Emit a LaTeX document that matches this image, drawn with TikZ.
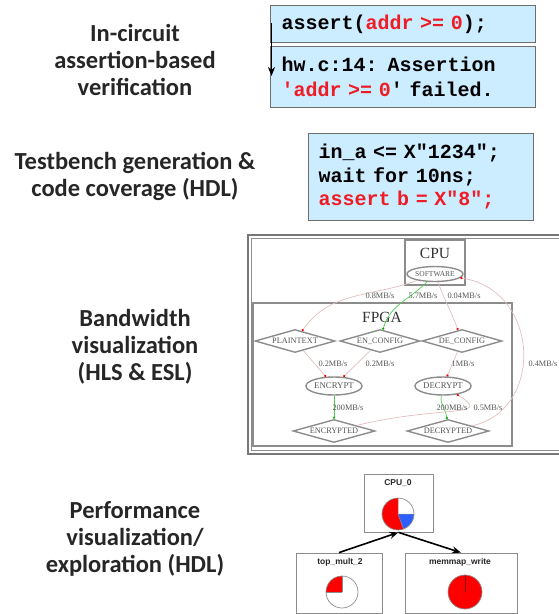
\documentclass[tikz,border=0pt]{standalone}
\usepackage{fontspec}
\setmainfont{Liberation Serif}
\setsansfont{Carlito}
\setmonofont{Liberation Mono}
\newfontfamily\piefont{Liberation Sans}
\usetikzlibrary{positioning,shapes.geometric,arrows.meta}
\definecolor{codebg}{RGB}{204,236,255}
\definecolor{codeline}{RGB}{110,110,110}
\definecolor{codered}{RGB}{238,28,36}
\definecolor{gvgray}{RGB}{140,140,140}
\definecolor{gvtext}{RGB}{85,85,85}
\definecolor{bwpink}{RGB}{226,190,190}
\definecolor{bwgreen}{RGB}{80,205,80}
\definecolor{pieblue}{RGB}{45,95,255}
\newcommand{\hl}[1]{\textcolor{codered}{#1}}

\begin{document}
\begin{tikzpicture}[x=1pt,y=-1pt,
  heading/.style={font=\sffamily\bfseries\fontsize{24.5}{27}\selectfont,align=center,text=black!85},
  codebox/.style={draw=codeline,fill=codebg,line width=1pt,anchor=north west,inner xsep=11pt,inner ysep=0pt,align=left,font=\ttfamily\bfseries\fontsize{20}{25}\selectfont},
  cluster/.style={draw=gvgray,line width=1.3pt},
  gvdiamond/.style={diamond,shape aspect=3.5,draw=gvgray,line width=1.4pt,minimum width=80pt,minimum height=23pt,inner sep=0pt,font=\fontsize{8.3}{9}\selectfont,text=gvtext},
  gvellipse/.style={ellipse,draw=gvgray,line width=1.4pt,minimum width=50pt,minimum height=18pt,inner sep=0pt,font=\fontsize{8.8}{9}\selectfont,text=gvtext},
  bwlabel/.style={font=\fontsize{8.3}{9}\selectfont,text=gvtext,inner sep=1pt},
  bwedge/.style={draw=bwpink,line width=0.7pt,-{Circle[length=2.2pt,color=red]}},
  bwfast/.style={draw=bwgreen,line width=0.7pt,-{Circle[length=2.2pt,color=green!70!black]}},
  piebox/.style={draw=gvgray,line width=0.8pt,inner sep=0pt},
  pietitle/.style={font=\piefont\bfseries\fontsize{8.5}{9}\selectfont,inner sep=0pt,text=black!85},
  flow/.style={line width=1.6pt,-{Stealth[length=9pt,width=7pt]}}]
\useasboundingbox (0,0) rectangle (558,614);

% left column
\node[heading] (hassert) at (135,60) {In-circuit\\assertion-based\\verification};
\node[heading] (htest) at (135,176) {Testbench generation \&\\code coverage (HDL)};
\node[heading] (hbw) at (135,347) {Bandwidth\\visualization\\(HLS \& ESL)};
\node[heading] (hperf) at (135,539) {Performance\\visualization/\\exploration (HDL)};

% assertion and testbench code
\node[codebox,minimum height=37pt,text width=243pt] (asrt) at (270,5) {assert(\hl{addr >= 0});};
\node[codebox,minimum height=61pt,text width=243pt] (fail) at (270,46) {hw.c:14: Assertion\\\hl{'addr >= 0}' failed.};
\coordinate (arrtop) at (271.5,23);
\coordinate (arrbot) at (271.5,76);
\draw[flow] (arrtop) -- (arrbot);
\node[codebox,minimum height=87pt,text width=205pt,inner xsep=10pt,font=\ttfamily\bfseries\fontsize{20}{23.5}\selectfont] (tb) at (308,133) {in\_a <= X"1234";\\wait for 10ns;\\\hl{assert b = X"8";}};

% bandwidth graph
\draw[gvgray!85!black,line width=1.3pt] (248,235) rectangle (564,454);
\draw[gvgray,line width=0.8pt] (251,238) rectangle (564,450.5);
\draw[cluster] (405,240) rectangle (465,285);
\draw[cluster] (253,303) rectangle (512,446);
\node[font=\fontsize{15.5}{16}\selectfont,text=black!80] (cpuname) at (435,253) {CPU};
\node[font=\fontsize{15.5}{16}\selectfont,text=black!80] (fpganame) at (382,317) {FPGA};
\node[gvellipse,minimum width=55pt,minimum height=15pt,font=\fontsize{7.5}{8}\selectfont] (sw) at (435,274) {SOFTWARE};
\node[gvdiamond] (plain) at (295,341) {PLAINTEXT};
\node[gvdiamond] (encfg) at (380,341) {EN\_CONFIG};
\node[gvdiamond] (decfg) at (462,341) {DE\_CONFIG};
\node[gvellipse] (enc) at (334,386) {ENCRYPT};
\node[gvellipse] (dec) at (443,386) {DECRYPT};
\node[gvdiamond,minimum width=82pt] (encd) at (334,431) {ENCRYPTED};
\node[gvdiamond,minimum width=82pt] (decd) at (448,431) {DECRYPTED};

\draw[bwedge] (sw) to[out=200,in=55] (plain);
\draw[bwfast] (sw) to[out=225,in=75] (encfg);
\draw[bwedge] (sw) to[out=-70,in=110] (decfg);
\draw[bwedge] (decd) .. controls (545,410) and (540,290) .. (sw);
\draw[bwedge] (plain) -- (enc);
\draw[bwedge] (encfg) -- (enc);
\draw[bwedge] (decfg) -- (dec);
\draw[bwfast] (enc) -- (encd);
\draw[bwfast] (dec) to[out=260,in=95] (decd);
\draw[bwedge] (encd) .. controls (440,405) and (495,418) .. (dec);

\foreach \xx/\yy/\rate [count=\i] in {380/296/{0.8MB/s}, 423/296/{5.7MB/s}, 464/296/{0.04MB/s},
    333/364/{0.2MB/s}, 380/364/{0.2MB/s}, 463/364/{1MB/s}, 543/364/{0.4MB/s},
    348/408/{200MB/s}, 452/408/{200MB/s}, 488/408/{0.5MB/s}}
  \node[bwlabel] (bw\i) at (\xx,\yy) {\rate};

% performance pies
\node[piebox,minimum width=69pt,minimum height=58pt] (cpu) at (398.5,503) {};
\node[piebox,minimum width=86pt,minimum height=60pt] (topmult) at (339,583) {};
\node[piebox,minimum width=112pt,minimum height=60pt] (memmap) at (461,583) {};
\node[pietitle] (cpulabel) at (398,483) {CPU\_0};
\node[pietitle] (topmultlabel) at (340,562) {top\_mult\_2};
\node[pietitle] (memmaplabel) at (460,562) {memmap\_write};
\begin{scope}[shift={(398,514)},y=1pt]
\fill[red] (0,0) -- (90:16) arc[start angle=90,end angle=290,radius=16] -- cycle;
\fill[pieblue] (0,0) -- (290:16) arc[start angle=290,end angle=360,radius=16] -- cycle;
\draw[gvgray,line width=0.5pt] (0,0) -- (90:16) (0,0) -- (290:16) (0,0) -- (0:16);
\draw[gvgray,line width=0.7pt] (0,0) circle[radius=16];
\end{scope}
\begin{scope}[shift={(342,592)},y=1pt]
\fill[red] (0,0) -- (90:16) arc[start angle=90,end angle=180,radius=16] -- cycle;
\draw[gvgray,line width=0.5pt] (0,0) -- (90:16) (0,0) -- (180:16);
\draw[gvgray,line width=0.7pt] (0,0) circle[radius=16];
\end{scope}
\begin{scope}[shift={(465,592)},y=1pt]
\fill[red] (0,0) circle[radius=17];
\draw[red!55!black,line width=0.6pt] (0,0) -- (90:17);
\draw[gvgray,line width=0.7pt] (0,0) circle[radius=17];
\end{scope}
\draw[flow] (topmult.north) -- (cpu.south);
\draw[flow] (cpu.south) -- (memmap.north);
\end{tikzpicture}
\end{document}
